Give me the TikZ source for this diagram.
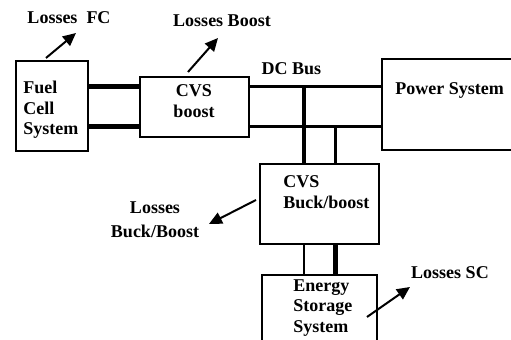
\documentclass[tikz,border=0pt]{standalone}
\usepackage{fontspec}
\setmainfont{Liberation Serif}
\usetikzlibrary{arrows.meta,calc}

\begin{document}
\begin{tikzpicture}[x=0.5pt,y=-0.5pt,
  every node/.style={font=\fontsize{9}{10.25}\selectfont\bfseries, inner sep=0pt},
  box/.style={draw, line width=1pt},
  bus/.style={line width=2.25pt},
  wire/.style={line width=1.4pt},
  loss/.style={line width=1pt, -{Triangle[length=6.5pt,width=6pt]}}]
\useasboundingbox (0,0) rectangle (511,340);
\clip (0,0) rectangle (511,340);
% Boxes
\node[box, minimum width=36pt, minimum height=45pt] (fc) at (52,106) {};
\node[box, minimum width=54.5pt, minimum height=30pt] (cvsb) at (194.5,107) {};
\node[box, minimum width=74pt, minimum height=45.5pt] (ps) at (456,104.5) {};
\node[box, minimum width=59.5pt, minimum height=40pt] (cvsbb) at (319.5,204) {};
\node[box, minimum width=57.5pt, minimum height=37.5pt] (ess) at (319.5,312.5) {};
% Box texts
\node[anchor=west, align=left] (fctxt) at (23,110) {Fuel\\Cell\\System};
\node[align=center] (cvsbtxt) at (194,101) {CVS\\boost};
\node[anchor=west] (pstxt) at (395,90) {Power System};
\node[anchor=west, align=left] (cvsbbtxt) at (283,192) {CVS\\Buck/boost};
\node[anchor=west, align=left] (esstxt) at (293,308) {Energy\\Storage\\System};
% Bus lines
\coordinate (bushi) at (0,86.5);
\coordinate (buslo) at (0,126.5);
\coordinate (tapa) at (304,0);
\coordinate (tapb) at (335.5,0);
\draw[bus] (fc.east |- bushi) -- (cvsb.west |- bushi);
\draw[bus] (fc.east |- buslo) -- (cvsb.west |- buslo);
\draw[wire] (cvsb.east |- bushi) -- (ps.west |- bushi);
\draw[wire] (cvsb.east |- buslo) -- (ps.west |- buslo);
\draw[bus] (tapa |- bushi) -- (tapa |- cvsbb.north);
\draw[wire] (tapb |- buslo) -- (tapb |- cvsbb.north);
\draw[wire] (tapa |- cvsbb.south) -- (tapa |- ess.north);
\draw[bus] (tapb |- cvsbb.south) -- (tapb |- ess.north);
\node (dcbus) at (291.5,69) {DC Bus};
% Losses
\node (lfc) at (69,17.5) {Losses\ \ FC};
\node (lboost) at (222,21) {Losses Boost};
\node[align=center] (lbuck) at (155,220) {Losses\\[1.75pt]Buck/Boost};
\node (lsc) at (450,273) {Losses SC};
\coordinate (fctip) at (76,33);
\coordinate (boosttip) at (218,38);
\coordinate (bucktip) at (209,224);
\coordinate (sctip) at (410,287);
\draw[loss] ($(fc.north)+(-6,-2)$) -- (fctip);
\draw[loss] ($(cvsb.north)+(-6.5,-4)$) -- (boosttip);
\draw[loss] ($(cvsbb.west)+(-3,-4)$) -- (bucktip);
\draw[loss] ($(ess.east)+(-11,4.5)$) -- (sctip);
\end{tikzpicture}
\end{document}
